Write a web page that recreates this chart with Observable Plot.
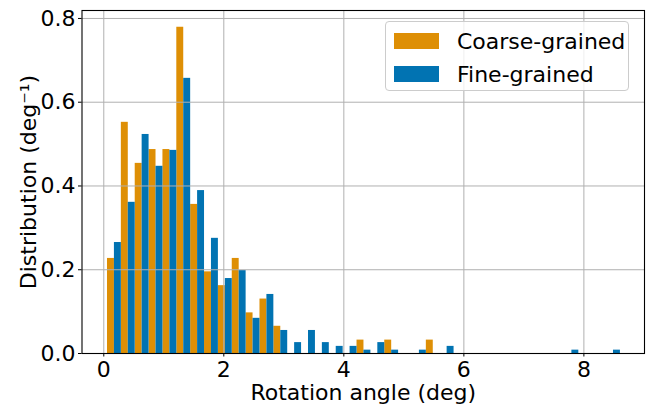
<!DOCTYPE html>
<html>
<head>
<meta charset="utf-8">
<script src="https://cdn.jsdelivr.net/npm/d3@7"></script>
<script src="https://cdn.jsdelivr.net/npm/@observablehq/plot@0.6"></script>
<style>
  body { margin: 0; background: #fff; }
  #wrap { position: relative; width: 647px; height: 406px; font-family: "DejaVu Sans", sans-serif; }
  #legend {
    position: absolute; left: 385px; top: 21px; width: 244px; height: 70px;
    background: rgba(255,255,255,0.8); border: 1px solid #cccccc; border-radius: 4px;
    box-sizing: border-box; font-size: 22px; color: #000;
  }
  .item { position: absolute; left: 8px; height: 22px; display: flex; align-items: center; white-space: nowrap; }
  .sw { width: 45px; height: 16px; margin-right: 18px; }
</style>
</head>
<body>
<div id="wrap"></div>
<script>
// Histogram bins (deg): first edge and width
const binStart = 0.0617;
const binWidth = 0.231;

// Density per bin (deg^-1)
const coarse = [0.227, 0.552, 0.454, 0.487, 0.487, 0.779, 0.356, 0.195, 0.162, 0.227,
                0.097, 0.130, 0.065, 0, 0, 0, 0, 0, 0.032, 0,
                0.032, 0, 0, 0.032, 0, 0, 0, 0, 0, 0,
                0, 0, 0, 0, 0, 0, 0];
const fine   = [0.265, 0.361, 0.523, 0.447, 0.485, 0.657, 0.389, 0.275, 0.179, 0.198,
                0.084, 0.141, 0.055, 0.026, 0.055, 0.026, 0.017, 0.017, 0.008, 0.026,
                0.008, 0, 0.008, 0, 0.017, 0, 0, 0, 0, 0,
                0, 0, 0, 0.008, 0, 0, 0.008];

const seriesNames = ["Coarse-grained", "Fine-grained"];
const seriesColors = ["#de8f05", "#0173b2"];

const xTicks = [0, 2, 4, 6, 8];
const yTicks = [0, 0.2, 0.4, 0.6, 0.8];

const rows = [];
[coarse, fine].forEach((arr, s) => {
  arr.forEach((v, k) => {
    if (v > 0) {
      const e = binStart + k * binWidth;
      rows.push({
        series: seriesNames[s],
        x1: e + s * binWidth / 2,
        x2: e + (s + 1) * binWidth / 2,
        v
      });
    }
  });
});

const chart = Plot.plot({
  width: 647,
  height: 406,
  marginLeft: 81.5,
  marginRight: 3,
  marginTop: 10,
  marginBottom: 53,
  style: { fontFamily: "DejaVu Sans, sans-serif", fontSize: "22px", color: "#000", background: "#fff" },
  x: { domain: [-0.363, 9.01] },
  y: { domain: [0, 0.819] },
  color: { domain: seriesNames, range: seriesColors },
  marks: [
    Plot.rect(rows, { x1: "x1", x2: "x2", y1: 0, y2: "v", fill: "series" }),
    Plot.ruleX(xTicks, { stroke: "#b0b0b0", strokeWidth: 1 }),
    Plot.ruleY(yTicks, { stroke: "#b0b0b0", strokeWidth: 1 }),
    Plot.frame({ stroke: "#000", strokeWidth: 1.1 }),
    Plot.axisX({ ticks: xTicks, tickSize: 3.5, tickPadding: 4, tickFormat: d3.format("d"), fontSize: 22, label: null, stroke: "#000" }),
    Plot.axisY({ ticks: yTicks, tickSize: 3.5, tickPadding: 3, tickFormat: d3.format(".1f"), fontSize: 22, label: null, stroke: "#000" }),
    Plot.text(["Rotation angle (deg)"], { frameAnchor: "bottom", dy: 46, fontSize: 22, fill: "#000" }),
    Plot.text(["Distribution (deg\u207B\u00B9)"], { frameAnchor: "left", textAnchor: "middle", dx: -53.5, rotate: -90, fontSize: 22, fill: "#000" })
  ]
});

const wrap = document.getElementById("wrap");
wrap.appendChild(chart);

const legend = document.createElement("div");
legend.id = "legend";
seriesNames.forEach((name, i) => {
  const item = document.createElement("div");
  item.className = "item";
  item.style.top = (i === 0 ? 8 : 41) + "px";
  const sw = document.createElement("div");
  sw.className = "sw";
  sw.style.background = seriesColors[i];
  const t = document.createElement("span");
  t.textContent = name;
  item.appendChild(sw);
  item.appendChild(t);
  legend.appendChild(item);
});
wrap.appendChild(legend);
</script>
</body>
</html>
